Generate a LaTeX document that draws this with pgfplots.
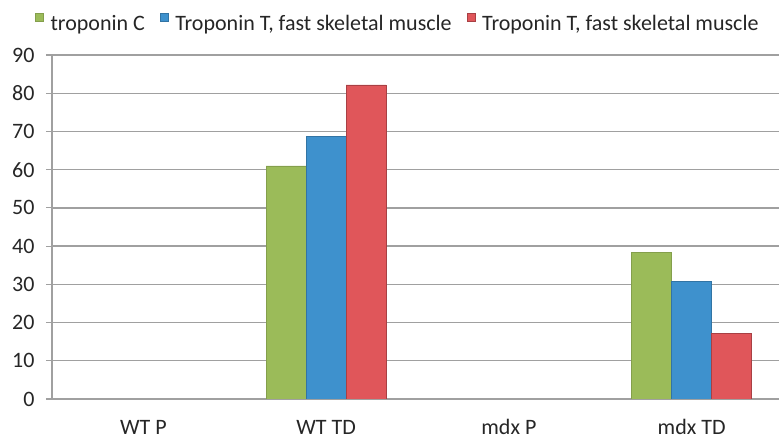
\documentclass[border=0pt]{standalone}
\usepackage{pgfplots}
\pgfplotsset{compat=1.18}
\usepackage{fontspec}
\setmainfont{Carlito}
\definecolor{cgreen}{RGB}{155,187,89}
\definecolor{cblue}{RGB}{62,145,205}
\definecolor{cred}{RGB}{224,86,90}
\definecolor{cgrid}{RGB}{160,160,160}
\begin{document}
\begin{tikzpicture}
\useasboundingbox (0,0) rectangle (779pt,439pt);
\begin{axis}[
  at={(52pt,40pt)}, anchor=south west,
  scale only axis, width=727pt, height=344pt,
  ybar=0pt, bar width=40pt,
  xmin=-0.5, xmax=3.478, ymin=0, ymax=90,
  ytick={0,10,...,90},
  xtick={0,1,2,3}, xticklabels={WT P, WT TD, mdx P, mdx TD},
  major x tick style={draw=none},
  extra x ticks={-0.5,0.5,1.5,2.5}, extra x tick labels={},
  extra x tick style={major tick length=6pt, tick style={draw=cgrid, line width=1pt}, grid=none},
  axis x line*=bottom, axis y line*=left,
  axis line style={draw=cgrid, line width=1.2pt, -},
  ymajorgrids, grid style={draw=cgrid, line width=1.4pt},
  y tick style={draw=cgrid, line width=1.2pt},
  tick align=outside, major tick length=6pt,
  xticklabel style={anchor=base, yshift=-30pt, inner sep=0pt},
  yticklabel style={xshift=-8pt},
  tick label style={font=\fontsize{22}{24}\selectfont, text=black!85},
  /pgf/number format/assume math mode=true,
  legend columns=3,
  legend style={at={(-0.0234,1.1233)}, anchor=north west, draw=none, fill=none,
    font=\fontsize{22}{24}\selectfont, text=black!85, column sep=7pt, inner sep=0pt,
    nodes={inner sep=0pt},
    /tikz/every even column/.append style={column sep=15pt}},
  legend image code/.code={\fill[#1] (0pt,3pt) rectangle (8pt,11pt);},
]
\addplot[fill=cgreen, draw=cgreen!85!black] coordinates {(1,61) (3,38.3)};
\addplot[fill=cblue, draw=cblue!80!black] coordinates {(1,68.7) (3,30.7)};
\addplot[fill=cred, draw=cred!75!black] coordinates {(1,82.2) (3,17.2)};
\legend{troponin C, {Troponin T, fast skeletal muscle}, {Troponin T, fast skeletal muscle}}
\end{axis}
\end{tikzpicture}
\end{document}
